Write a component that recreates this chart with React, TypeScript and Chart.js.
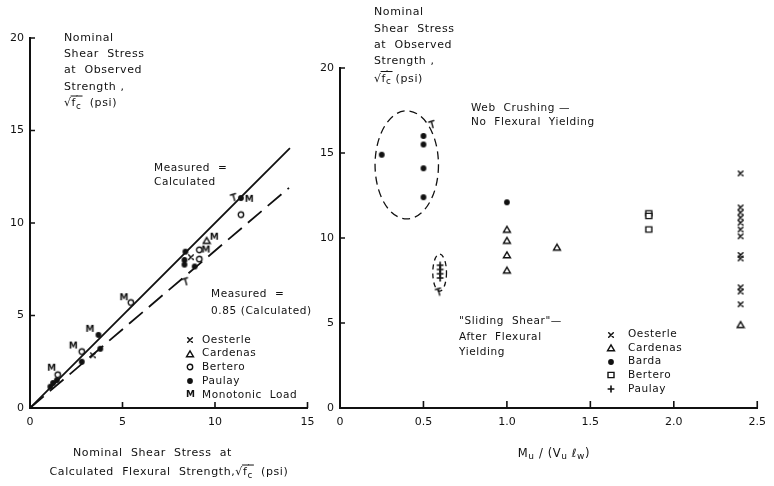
import React, { useEffect, useRef } from "react";
import { Chart, registerables } from "chart.js";
Chart.register(...registerables);

const FONT = '"DejaVu Sans", "Liberation Sans", sans-serif';
const INK = "#111111";

// ---------------- Left panel data ----------------
const leftXTickMarks = [5, 10, 15];
const leftYTickMarks = [5, 10, 15, 20];
const equalityLine = [{ x: 0, y: 0 }, { x: 14.05, y: 14.05 }];
const reducedLine = [{ x: 0, y: 0 }, { x: 14.0, y: 11.9 }];
const leftOesterle = [{ x: 3.4, y: 2.85 }, { x: 8.7, y: 8.15 }];
const leftCardenas = [{ x: 9.55, y: 9.05 }];
const leftBertero = [
  { x: 1.5, y: 1.8 }, { x: 2.8, y: 3.05 }, { x: 5.45, y: 5.7 },
  { x: 9.15, y: 8.55 }, { x: 9.15, y: 8.05 }, { x: 11.4, y: 10.45 },
];
const leftPaulay = [
  { x: 1.1, y: 1.15 }, { x: 1.25, y: 1.35 }, { x: 1.45, y: 1.5 },
  { x: 2.8, y: 2.5 }, { x: 3.8, y: 3.2 }, { x: 3.7, y: 3.95 },
  { x: 8.4, y: 8.45 }, { x: 8.35, y: 8.0 }, { x: 8.35, y: 7.75 },
  { x: 8.9, y: 7.65 }, { x: 11.4, y: 11.35 },
];
const leftMonotonic = [
  { x: 11.85, y: 11.28 }, { x: 9.96, y: 9.23 }, { x: 9.51, y: 8.54 },
  { x: 5.08, y: 5.96 }, { x: 3.24, y: 4.25 }, { x: 2.34, y: 3.35 }, { x: 1.17, y: 2.15 },
];
const leftHooks = [{ x: 11.0, y: 11.4 }, { x: 8.4, y: 6.85 }];

// ---------------- Right panel data ----------------
const rightXTickMarks = [0.5, 1.0, 1.5, 2.0, 2.5];
const rightYTickMarks = [5, 10, 15, 20];
const oesterleRatio = 2.4;
const oesterleStress = [13.8, 11.8, 11.5, 11.2, 10.9, 10.5, 10.1, 9.0, 8.8, 7.1, 6.85, 6.1];
const rightCardenas = [
  { x: 1.0, y: 10.5 }, { x: 1.0, y: 9.85 }, { x: 1.0, y: 9.0 }, { x: 1.0, y: 8.1 },
  { x: 1.3, y: 9.45 }, { x: 2.4, y: 4.9 },
];
const rightBarda = [
  { x: 0.25, y: 14.9 }, { x: 0.5, y: 16.0 }, { x: 0.5, y: 15.5 },
  { x: 0.5, y: 14.1 }, { x: 0.5, y: 12.4 }, { x: 1.0, y: 12.1 },
];
const rightBertero = [{ x: 1.85, y: 11.45 }, { x: 1.85, y: 11.3 }, { x: 1.85, y: 10.5 }];
const rightPaulay = [{ x: 0.6, y: 8.4 }, { x: 0.6, y: 8.15 }, { x: 0.6, y: 7.9 }, { x: 0.6, y: 7.65 }];
const rightHooks = [{ x: 0.55, y: 16.7 }, { x: 0.59, y: 6.85 }];
const webCrushingEllipse = { cx: 0.4, cy: 14.3, rx: 0.19, ry: 3.18 };
const slidingShearEllipse = { cx: 0.597, cy: 7.96, rx: 0.041, ry: 1.09 };

// ---------------- helpers ----------------
type Kind = "cross" | "triangle" | "circle" | "square" | "dot" | "plus" | "M" | "hook";
const markerCache: Record<string, HTMLCanvasElement> = {};
function marker(kind: Kind): HTMLCanvasElement {
  if (markerCache[kind]) return markerCache[kind];
  const c = document.createElement("canvas");
  const s = kind === "M" ? 11 : 10;
  c.width = s;
  c.height = s;
  const g = c.getContext("2d")!;
  g.strokeStyle = INK;
  g.fillStyle = INK;
  g.lineWidth = 1.4;
  g.lineCap = "round";
  const m = s / 2;
  g.beginPath();
  switch (kind) {
    case "cross":
      g.lineWidth = 1.5;
      g.moveTo(m - 2.3, m - 2.3); g.lineTo(m + 2.3, m + 2.3);
      g.moveTo(m + 2.3, m - 2.3); g.lineTo(m - 2.3, m + 2.3);
      g.stroke();
      break;
    case "triangle":
      g.moveTo(m, m - 3.2); g.lineTo(m + 3.5, m + 2.8); g.lineTo(m - 3.5, m + 2.8); g.closePath();
      g.fillStyle = "#fff"; g.fill(); g.stroke();
      break;
    case "circle":
      g.arc(m, m, 2.7, 0, Math.PI * 2);
      g.fillStyle = "#fff"; g.fill(); g.stroke();
      break;
    case "square":
      g.rect(m - 3, m - 2.6, 6, 5.2);
      g.fillStyle = "#fff"; g.fill(); g.stroke();
      break;
    case "dot":
      g.arc(m, m, 2.9, 0, Math.PI * 2);
      g.fill();
      break;
    case "plus":
      g.lineWidth = 1.6;
      g.moveTo(m, m - 3); g.lineTo(m, m + 3);
      g.moveTo(m - 2.8, m); g.lineTo(m + 2.8, m);
      g.stroke();
      break;
    case "M":
      g.font = `bold 9px ${FONT}`;
      g.textAlign = "center";
      g.textBaseline = "middle";
      g.fillText("M", m, m + 0.5);
      break;
    case "hook":
      g.moveTo(m - 3, m - 2); g.lineTo(m + 2, m - 3.5);
      g.moveTo(m - 0.5, m - 2.8); g.lineTo(m + 1.2, m + 3.5);
      g.stroke();
      break;
  }
  markerCache[kind] = c;
  return c;
}

type Run = { t: string; size?: number; dy?: number; over?: boolean; noAdvance?: boolean };
function drawRuns(ctx: CanvasRenderingContext2D, runs: Run[], x: number, y: number, size: number, align: "left" | "center" = "left") {
  const widths = runs.map((r) => {
    ctx.font = `${r.size ?? size}px ${FONT}`;
    return r.noAdvance ? 0 : ctx.measureText(r.t).width;
  });
  const total = widths.reduce((a, b) => a + b, 0);
  let cx = align === "center" ? x - total / 2 : x;
  let overStart = -1;
  let overEnd = -1;
  ctx.textAlign = "left";
  ctx.textBaseline = "middle";
  runs.forEach((r, i) => {
    ctx.font = `${r.size ?? size}px ${FONT}`;
    ctx.fillText(r.t, cx, y + (r.dy ?? 0));
    const w = ctx.measureText(r.t).width;
    if (r.over) {
      if (overStart < 0) overStart = cx - 1;
      overEnd = Math.max(overEnd, cx + w);
    }
    cx += widths[i];
  });
  if (overStart >= 0) {
    ctx.beginPath();
    ctx.lineWidth = 1;
    ctx.moveTo(overStart, y - size * 0.68);
    ctx.lineTo(overEnd + 1, y - size * 0.68);
    ctx.stroke();
  }
}
const rootFc = (size: number): Run[] => [
  { t: "√" },
  { t: "f", over: true },
  { t: "′", size: size * 0.8, dy: -4, over: true, noAdvance: true },
  { t: "c", size: size * 0.8, dy: 3, over: true },
];

function label(ctx: CanvasRenderingContext2D, s: string, x: number, y: number, size = 11, align: CanvasTextAlign = "left") {
  ctx.font = `${size}px ${FONT}`;
  ctx.textAlign = align;
  ctx.textBaseline = "middle";
  ctx.fillText(s, x, y);
}

function setSpacing(ctx: any, px: string) {
  if ("letterSpacing" in ctx) ctx.letterSpacing = px;
}

function inwardTicks(chart: any, xs: number[], ys: number[], xLen: number, yLen: number) {
  const { ctx, scales } = chart;
  const sx = scales.x;
  const sy = scales.y;
  const x0 = sx.getPixelForValue(sx.min);
  const y0 = sy.getPixelForValue(sy.min);
  ctx.beginPath();
  ctx.lineWidth = 1.6;
  xs.forEach((v) => { const p = sx.getPixelForValue(v); ctx.moveTo(p, y0); ctx.lineTo(p, y0 - xLen); });
  ys.forEach((v) => { const p = sy.getPixelForValue(v); ctx.moveTo(x0, p); ctx.lineTo(x0 + yLen, p); });
  ctx.stroke();
}

function legend(ctx: CanvasRenderingContext2D, items: [Kind, string][], mx: number, tx: number, y0: number, step: number) {
  items.forEach(([k, s], i) => {
    const c = marker(k);
    const y = y0 + i * step;
    ctx.drawImage(c, Math.round(mx - c.width / 2), Math.round(y - c.height / 2));
    label(ctx, s, tx, y, 10.5);
  });
}

const leftDecor = {
  id: "leftDecor",
  afterDraw(chart: any) {
    const ctx = chart.ctx as CanvasRenderingContext2D;
    ctx.save();
    ctx.fillStyle = INK;
    ctx.strokeStyle = INK;
    inwardTicks(chart, leftXTickMarks, leftYTickMarks, 6, 5);
    setSpacing(ctx, "0.6px");
    // y title
    const tx = 64;
    label(ctx, "Nominal", tx, 38.5);
    label(ctx, "Shear  Stress", tx, 54.5);
    label(ctx, "at  Observed", tx, 70.5);
    label(ctx, "Strength ,", tx, 87);
    drawRuns(ctx, [...rootFc(11), { t: "  (psi)" }], tx, 103.5, 11);
    // line annotations
    label(ctx, "Measured  =", 154, 168, 10.5);
    label(ctx, "Calculated", 154, 182.5, 10.5);
    label(ctx, "Measured  =", 211, 294, 10.5);
    label(ctx, "0.85 (Calculated)", 211, 311, 10.5);
    // legend
    legend(ctx, [["cross", "Oesterle"], ["triangle", "Cardenas"], ["circle", "Bertero"], ["dot", "Paulay"], ["M", "Monotonic  Load"]], 190, 202, 340, 13.7);
    // x title
    label(ctx, "Nominal  Shear  Stress  at", 152.5, 453, 11, "center");
    drawRuns(ctx, [{ t: "Calculated  Flexural  Strength," }, ...rootFc(11), { t: "  (psi)" }], 169, 472.5, 11, "center");
    ctx.restore();
  },
};

const rightDecor = {
  id: "rightDecor",
  afterDraw(chart: any) {
    const ctx = chart.ctx as CanvasRenderingContext2D;
    const { x: sx, y: sy } = chart.scales;
    ctx.save();
    ctx.fillStyle = INK;
    ctx.strokeStyle = INK;
    inwardTicks(chart, rightXTickMarks, rightYTickMarks, 7, 5);
    // dashed ellipses
    [
      { e: webCrushingEllipse, dash: [8, 5] },
      { e: slidingShearEllipse, dash: [5, 4] },
    ].forEach(({ e, dash }) => {
      const cx = sx.getPixelForValue(e.cx);
      const cy = sy.getPixelForValue(e.cy);
      const rx = Math.abs(sx.getPixelForValue(e.cx + e.rx) - cx);
      const ry = Math.abs(sy.getPixelForValue(e.cy + e.ry) - cy);
      ctx.beginPath();
      ctx.setLineDash(dash);
      ctx.lineWidth = 1.3;
      ctx.ellipse(cx, cy, rx, ry, 0, 0, Math.PI * 2);
      ctx.stroke();
    });
    ctx.setLineDash([]);
    setSpacing(ctx, "0.6px");
    // y title
    const tx = 74;
    label(ctx, "Nominal", tx, 12.5);
    label(ctx, "Shear  Stress", tx, 29);
    label(ctx, "at  Observed", tx, 45);
    label(ctx, "Strength ,", tx, 61);
    drawRuns(ctx, [...rootFc(11), { t: " (psi)" }], tx, 79, 11);
    // annotations
    label(ctx, "Web  Crushing —", 171, 108, 10.5);
    label(ctx, "No  Flexural  Yielding", 171, 122.5, 10.5);
    label(ctx, "\"Sliding  Shear\"—", 159, 321, 10.5);
    label(ctx, "After  Flexural", 159, 337, 10.5);
    label(ctx, "Yielding", 159, 352, 10.5);
    // legend
    legend(ctx, [["cross", "Oesterle"], ["triangle", "Cardenas"], ["dot", "Barda"], ["square", "Bertero"], ["plus", "Paulay"]], 311, 328, 334.5, 13.6);
    // x title
    drawRuns(
      ctx,
      [
        { t: "M" }, { t: "u", size: 9, dy: 3 }, { t: " / (V" }, { t: "u", size: 9, dy: 3 },
        { t: " ℓ" }, { t: "w", size: 9, dy: 3 }, { t: ")" },
      ],
      254, 454, 11.5, "center"
    );
    ctx.restore();
  },
};

const axisCommon = (min: number, max: number, step: number, padding: number, fmt?: (v: number) => string) => ({
  type: "linear" as const,
  min,
  max,
  grid: { display: false, drawTicks: false },
  border: { display: true, width: 2, color: INK },
  ticks: {
    stepSize: step,
    padding,
    color: INK,
    autoSkip: false,
    maxRotation: 0,
    font: { family: FONT, size: 11 },
    callback: fmt ? (v: any) => fmt(Number(v)) : undefined,
  },
});

const scatterSet = (label: string, data: any[], kind: Kind) => ({
  label,
  data,
  pointStyle: marker(kind),
  pointRadius: 4,
  showLine: false,
});

function leftConfig(): any {
  return {
    type: "scatter",
    data: {
      datasets: [
        { label: "Measured = Calculated", data: equalityLine, showLine: true, pointRadius: 0, borderColor: INK, borderWidth: 1.8 },
        { label: "Measured = 0.85 (Calculated)", data: reducedLine, showLine: true, pointRadius: 0, borderColor: INK, borderWidth: 1.8, borderDash: [18, 8] },
        scatterSet("Oesterle", leftOesterle, "cross"),
        scatterSet("Cardenas", leftCardenas, "triangle"),
        scatterSet("Bertero", leftBertero, "circle"),
        scatterSet("Paulay", leftPaulay, "dot"),
        scatterSet("Monotonic Load", leftMonotonic, "M"),
        scatterSet("hooks", leftHooks, "hook"),
      ],
    },
    options: {
      animation: false,
      responsive: false,
      maintainAspectRatio: false,
      layout: { padding: { left: 0, top: 38, right: 22.5, bottom: 0 } },
      plugins: { legend: { display: false }, tooltip: { enabled: false } },
      scales: {
        x: { ...axisCommon(0, 15, 5, 8), afterFit: (s: any) => { s.height = 78; } },
        y: { ...axisCommon(0, 20, 5, 6), afterFit: (s: any) => { s.width = 30; } },
      },
    },
    plugins: [leftDecor],
  };
}

function rightConfig(): any {
  return {
    type: "scatter",
    data: {
      datasets: [
        scatterSet("Oesterle", oesterleStress.map((y) => ({ x: oesterleRatio, y })), "cross"),
        scatterSet("Cardenas", rightCardenas, "triangle"),
        scatterSet("Barda", rightBarda, "dot"),
        scatterSet("Bertero", rightBertero, "square"),
        scatterSet("Paulay", rightPaulay, "plus"),
        scatterSet("hooks", rightHooks, "hook"),
      ],
    },
    options: {
      animation: false,
      responsive: false,
      maintainAspectRatio: false,
      layout: { padding: { left: 0, top: 68, right: 12, bottom: 0 } },
      plugins: { legend: { display: false }, tooltip: { enabled: false } },
      scales: {
        x: { ...axisCommon(0, 2.5, 0.5, 8, (v) => (v === 0 ? "0" : v.toFixed(1))), afterFit: (s: any) => { s.height = 78; } },
        y: { ...axisCommon(0, 20, 5, 6), afterFit: (s: any) => { s.width = 40; } },
      },
    },
    plugins: [rightDecor],
  };
}

function Panel({ left, width, build }: { left: number; width: number; build: () => any }) {
  const ref = useRef<HTMLCanvasElement>(null);
  useEffect(() => {
    const chart = new Chart(ref.current!, build());
    return () => chart.destroy();
  }, []);
  return (
    <canvas
      ref={ref}
      width={width}
      height={486}
      style={{ position: "absolute", left, top: 0, width, height: 486, display: "block" }}
    />
  );
}

export default function App() {
  return (
    <div style={{ position: "fixed", left: 0, top: 0, width: 774, height: 486, background: "#fff", overflow: "hidden" }}>
      <Panel left={0} width={330} build={leftConfig} />
      <Panel left={300} width={474} build={rightConfig} />
    </div>
  );
}
